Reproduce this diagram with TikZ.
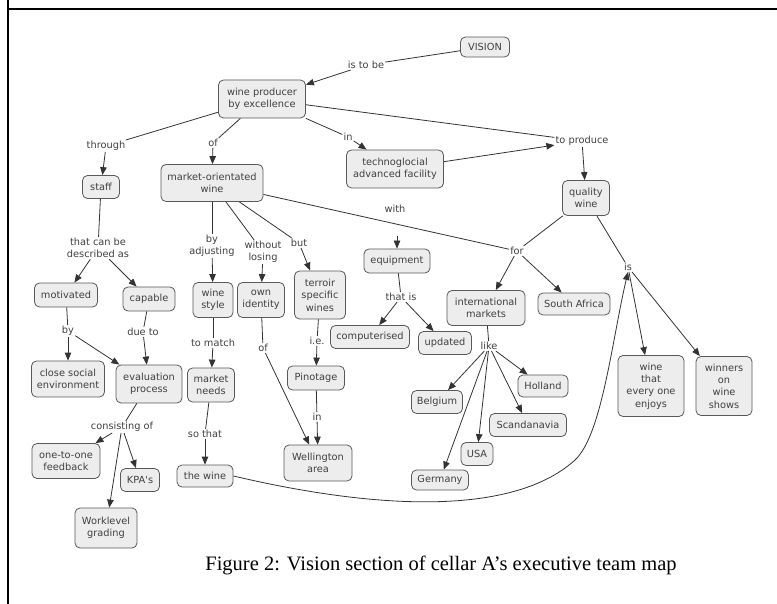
\documentclass[tikz,border=0pt]{standalone}
\usepackage{fontspec}
\setmainfont{Liberation Serif}
\newfontfamily\mapfont{DejaVu Sans}
\usetikzlibrary{arrows.meta}
\begin{document}
\begin{tikzpicture}[x=1pt,y=-1pt,
  concept/.style={draw=black!65, fill=black!7, rounded corners=5pt, line width=0.8pt,
    align=center, inner sep=1pt, text=black!75, font=\mapfont\fontsize{9.8}{12.4}\selectfont},
  linkw/.style={fill=white, inner sep=1pt, align=center, text=black!75,
    font=\mapfont\fontsize{9.8}{12.4}\selectfont},
  conn/.style={draw=black!80, line width=0.8pt},
  arr/.style={conn, -{Triangle[length=8pt,width=6.5pt]}}]
\useasboundingbox (0,0) rectangle (777,604);

% page frame
\draw[line width=2pt] (8,0) -- (8,604);
\draw[line width=2pt] (8,9) -- (777,9);

% concepts
\node[concept, minimum width=49, minimum height=20] (vision) at (485,47) {VISION};
\node[concept, minimum width=87, minimum height=38] (wp) at (262,99) {wine producer\\by excellence};
\node[concept, minimum width=37, minimum height=23] (staff) at (101,187) {staff};
\node[concept, minimum width=102, minimum height=37] (mow) at (212,183) {market-orientated\\wine};
\node[concept, minimum width=97, minimum height=38] (tech) at (395,169) {technoglocial\\advanced facility};
\node[concept, minimum width=47, minimum height=35] (qw) at (586,198) {quality\\wine};
\node[concept, minimum width=63, minimum height=24] (motiv) at (66,295) {motivated};
\node[concept, minimum width=52, minimum height=24] (capable) at (149,299) {capable};
\node[concept, minimum width=40, minimum height=35] (style) at (213,300) {wine\\style};
\node[concept, minimum width=47, minimum height=35] (ownid) at (261,300) {own\\identity};
\node[concept, minimum width=51, minimum height=48] (terroir) at (320,295) {terroir\\specific\\wines};
\node[concept, minimum width=66, minimum height=24] (equip) at (397,261) {equipment};
\node[concept, minimum width=78, minimum height=35] (intl) at (486,308) {international\\markets};
\node[concept, minimum width=72, minimum height=22] (sa) at (574,304) {South Africa};
\node[concept, minimum width=79, minimum height=23] (comp) at (370,337) {computerised};
\node[concept, minimum width=53, minimum height=23] (upd) at (445,343) {updated};
\node[concept, minimum width=73, minimum height=36] (close) at (68,379) {close social\\environment};
\node[concept, minimum width=66, minimum height=38] (eval) at (149,384) {evaluation\\process};
\node[concept, minimum width=47, minimum height=34] (mneeds) at (211,385) {market\\needs};
\node[concept, minimum width=57, minimum height=24] (pino) at (316,378) {Pinotage};
\node[concept, minimum width=68, minimum height=36] (well) at (318,463) {Wellington\\area};
\node[concept, minimum width=56, minimum height=22] (thewine) at (205,476) {the wine};
\node[concept, minimum width=68, minimum height=35] (oto) at (66,461) {one-to-one\\feedback};
\node[concept, minimum width=39, minimum height=23] (kpa) at (140,480) {KPA's};
\node[concept, minimum width=62, minimum height=40] (work) at (106,528) {Worklevel\\grading};
\node[concept, minimum width=51, minimum height=23] (belg) at (437,402) {Belgium};
\node[concept, minimum width=50, minimum height=22] (holl) at (543,386) {Holland};
\node[concept, minimum width=77, minimum height=23] (scan) at (528,425) {Scandanavia};
\node[concept, minimum width=32, minimum height=23] (usa) at (477,454) {USA};
\node[concept, minimum width=57, minimum height=20] (germ) at (440,480) {Germany};
\node[concept, minimum width=66, minimum height=61] (enjoy) at (651,386) {wine\\that\\every one\\enjoys};
\node[concept, minimum width=56, minimum height=59] (winners) at (724,386) {winners\\on\\wine\\shows};

% linking phrases
\node[linkw] (istobe) at (366,65) {is to be};
\node[linkw] (through) at (106,146) {through};
\node[linkw] (of1) at (213,143) {of};
\node[linkw] (in1) at (348,137) {in};
\node[linkw] (produce) at (582,141) {to produce};
\node[linkw] (descr) at (98,248) {that can be\\described as};
\node[linkw] (adjust) at (212,246) {by\\adjusting};
\node[linkw] (without) at (263,252) {without\\losing};
\node[linkw] (but) at (299,243) {but};
\node[linkw] (with) at (395,209) {with};
\node[linkw] (for) at (517,251) {for};
\node[linkw] (thatis) at (401,297) {that is};
\node[linkw] (is) at (628,267) {is};
\node[linkw] (like) at (489,346) {like};
\node[linkw] (by) at (68,331) {by};
\node[linkw] (dueto) at (143,332) {due to};
\node[linkw] (tomatch) at (213,343) {to match};
\node[linkw] (consist) at (122,427) {consisting of};
\node[linkw] (sothat) at (205,434) {so that};
\node[linkw] (of2) at (263,348) {of};
\node[linkw] (ie) at (317,341) {i.e.};
\node[linkw] (in2) at (317,417) {in};
\coordinate (withtail) at (397,236);

% connectors
\draw[conn] (vision) -- (istobe);
\draw[arr] (istobe) -- (wp);
\draw[conn] (wp) -- (through);
\draw[arr] (through) -- (staff);
\draw[conn] (wp) -- (of1);
\draw[arr] (of1) -- (mow);
\draw[conn] (wp) -- (in1);
\draw[arr] (in1) -- (tech);
\draw[conn] (wp) -- (produce);
\draw[arr] (tech) -- (produce);
\draw[arr] (produce) -- (qw);

\draw[conn] (staff) -- (descr);
\draw[arr] (descr) -- (motiv);
\draw[arr] (descr) -- (capable);
\draw[conn] (motiv) -- (by);
\draw[arr] (by) -- (close);
\draw[arr] (by) -- (eval);
\draw[conn] (capable) -- (dueto);
\draw[arr] (dueto) -- (eval);
\draw[conn] (eval) -- (consist);
\draw[arr] (consist) -- (oto);
\draw[arr] (consist) -- (kpa);
\draw[arr] (consist) -- (work);

\draw[conn] (mow) -- (adjust);
\draw[arr] (adjust) -- (style);
\draw[conn] (mow) -- (without);
\draw[arr] (without) -- (ownid);
\draw[conn] (mow) -- (but);
\draw[arr] (but) -- (terroir);
\draw[conn] (mow) -- (for);
\draw[arr] (withtail) -- (equip);

\draw[conn] (style) -- (tomatch);
\draw[arr] (tomatch) -- (mneeds);
\draw[conn] (mneeds) -- (sothat);
\draw[arr] (sothat) -- (thewine);
\draw[conn] (ownid) -- (of2);
\draw[arr] (of2) -- (well);
\draw[conn] (terroir) -- (ie);
\draw[arr] (ie) -- (pino);
\draw[conn] (pino) -- (in2);
\draw[arr] (in2) -- (well);

\draw[conn] (equip) -- (thatis);
\draw[arr] (thatis) -- (comp);
\draw[arr] (thatis) -- (upd);

\draw[conn] (qw) -- (for);
\draw[arr] (for) -- (intl);
\draw[arr] (for) -- (sa);
\draw[conn] (intl) -- (like);
\draw[arr] (like) -- (belg);
\draw[arr] (like) -- (holl);
\draw[arr] (like) -- (scan);
\draw[arr] (like) -- (usa);
\draw[arr] (like) -- (germ);

\draw[conn] (qw) -- (is);
\draw[arr] (is) -- (enjoy);
\draw[arr] (is) -- (winners);
\draw[arr] (thewine.east) .. controls (400,515) and (520,510) .. (575,460)
  .. controls (602,435) and (612,340) .. (is.south);

% caption
\node[font=\fontsize{20.5}{24}\selectfont, anchor=base] (caption) at (441,570)
  {Figure 2: Vision section of cellar A’s executive team map};
\end{tikzpicture}
\end{document}
